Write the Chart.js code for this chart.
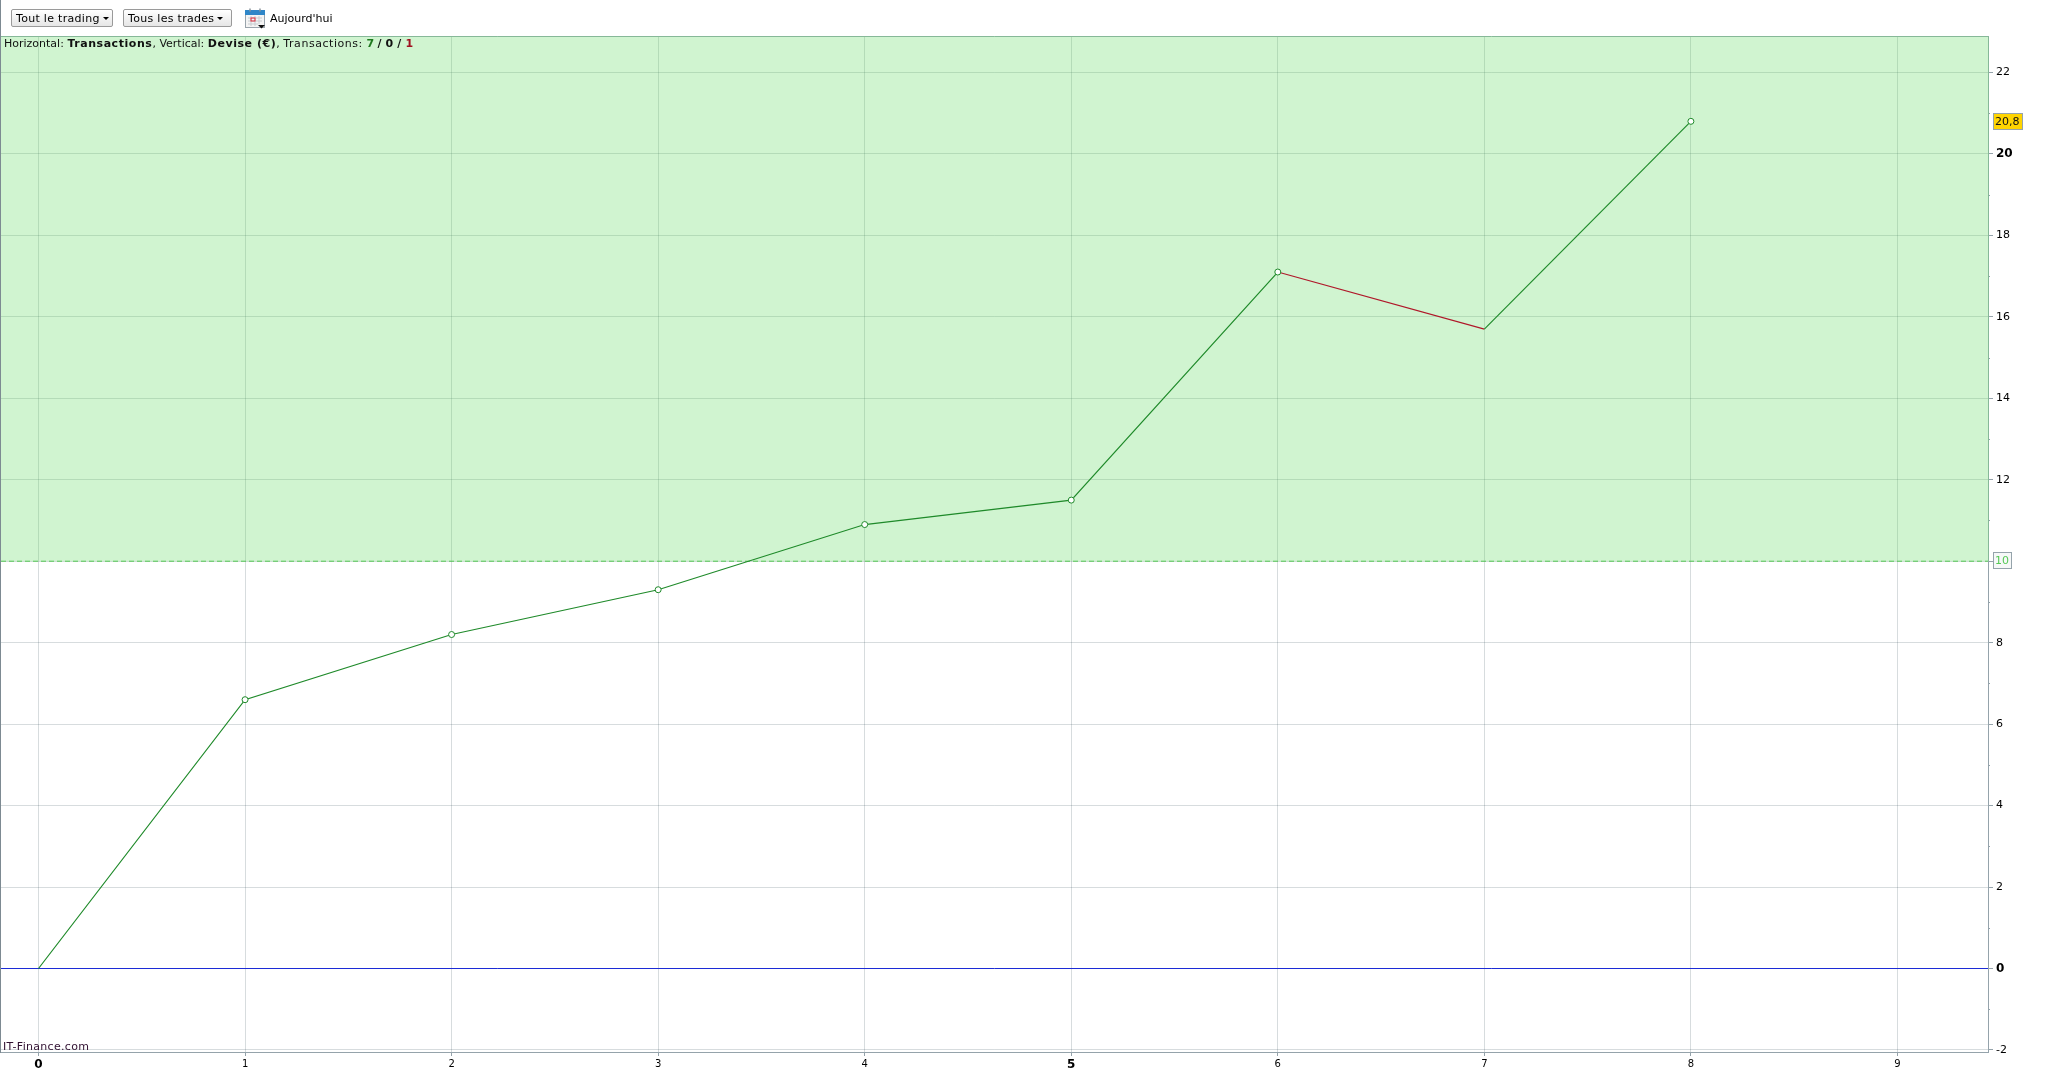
<!DOCTYPE html>
<html>
<head>
<meta charset="utf-8">
<title>IT-Finance</title>
<script src="https://cdn.jsdelivr.net/npm/chart.js@4"></script>
<style>
html,body{margin:0;padding:0;background:#fff;overflow:hidden;}
body{font-family:"DejaVu Sans",sans-serif;font-size:11px;color:#000;}
#wrap{position:absolute;left:0;top:0;width:2047px;height:1071px;}
#edge{position:absolute;left:0;top:0;width:1px;height:1053px;background:#7d8a92;}
.btn{position:absolute;top:9px;height:16px;line-height:18px;border:1px solid #9a9a9a;border-radius:2px;
	background:linear-gradient(#fff,#e6e6e6);padding-left:4px;box-sizing:content-box;white-space:nowrap;letter-spacing:0.3px;}
.btn i{display:inline-block;width:0;height:0;margin-left:3px;vertical-align:2px;
	border-left:3px solid transparent;border-right:3px solid transparent;border-top:3px solid #000;}
#today{position:absolute;left:270px;top:12px;line-height:14px;}
#cal{position:absolute;left:245px;top:8px;}
#info{position:absolute;left:4px;top:37px;line-height:14px;white-space:pre;color:#111;}
#info b{letter-spacing:0.55px;}
#info .t{letter-spacing:0.55px;}
#info .g{color:#1f7a1f;font-weight:bold;}
#info .r{color:#a01020;font-weight:bold;}
#credit{position:absolute;left:3px;top:1040px;line-height:14px;color:#301030;letter-spacing:0.3px;}
</style>
</head>
<body>
<div id="wrap">
	<canvas id="myChart" width="2047" height="1071"></canvas>
	<div id="edge"></div>
	<div class="btn" style="left:11px;width:96px">Tout le trading<i></i></div>
	<div class="btn" style="left:123px;width:103px">Tous les trades<i></i></div>
	<svg id="cal" width="21" height="21" viewBox="0 0 21 21">
		<rect x="0.5" y="2.5" width="19" height="17" fill="#f4f4f4" stroke="#9aa4ac"/>
		<rect x="0" y="2" width="20" height="5" fill="#2f86c8"/>
		<path d="M5 0.5v3M15 0.5v3" stroke="#8a949c" stroke-width="1.5"/>
		<path d="M3 10h14M3 13h14M3 16h10M6 8v10M10 8v10M14 8v8" stroke="#c8ccd0" stroke-width="1"/>
		<rect x="6" y="10" width="4" height="3" fill="none" stroke="#e03040"/>
		<path d="M13 17h7l-3.5 3.5z" fill="#111"/>
	</svg>
	<div id="today">Aujourd'hui</div>
	<div id="info">Horizontal: <b>Transactions</b>, Vertical: <b>Devise (€)</b>, <span class="t">Transactions:</span> <span class="g">7</span> <b>/</b> <b>0</b> <b>/</b> <span class="r">1</span></div>
	<div id="credit">IT-Finance.com</div>
</div>
<script>
//DATOS
const transactions = [0, 1, 2, 3, 4, 5, 6, 7, 8];
const devise = [0, 6.6, 8.2, 9.3, 10.9, 11.5, 17.1, 15.7, 20.8];
const sansMarqueur = [0, 7];
const xBoldTicks = [0, 5];
const yBoldTicks = [0, 20];
const seuil = 10;
const dernier = 20.8;
const xMin = -0.1816, xMax = 9.4384;
const yMin = -2.05, yMax = 22.895;

const vert = "#1f8a2a";
const rouge = "#b0182a";
const grille = "rgba(20,50,60,0.17)";
const axe = "#95a3ab";
const axeVert = "#86b898";

//la fuente tambien se pide sin tick, al medir la escala
function fontTick(c, bolds, size){
	if(c.tick && bolds.includes(c.tick.value)){
		return {family: "DejaVu Sans", size: 12, weight: "bold"};
	}
	return {family: "DejaVu Sans", size: size};
}

function boite(ctx, x, y, w, h, fond, bord, texte, couleur){
	ctx.fillStyle = fond;
	ctx.fillRect(x, y, w, h);
	ctx.strokeStyle = bord;
	ctx.lineWidth = 1;
	ctx.strokeRect(x + 0.5, y + 0.5, w - 1, h - 1);
	ctx.fillStyle = couleur;
	ctx.font = '11px "DejaVu Sans"';
	ctx.textAlign = "left";
	ctx.textBaseline = "middle";
	ctx.fillText(texte, x + 2, y + h / 2 + 0.5);
}

//marcas cortas impares, borde verde y etiquetas con caja a la derecha
const extrasAxe = {
	id: "extrasAxe",
	afterDraw(chart){
		const ctx = chart.ctx;
		const y = chart.scales.y;
		const area = chart.chartArea;
		const right = area.right;
		ctx.save();
		ctx.strokeStyle = axe;
		ctx.lineWidth = 1;
		y.ticks.forEach(t => {
			if(t.value % 2 !== 0){
				let py = Math.round(y.getPixelForValue(t.value)) + 0.5;
				ctx.beginPath();
				ctx.moveTo(right, py);
				ctx.lineTo(right + 2, py);
				ctx.stroke();
			}
		});
		let p10 = Math.round(y.getPixelForValue(seuil));
		ctx.strokeStyle = axeVert;
		ctx.beginPath();
		ctx.moveTo(area.left, area.top + 0.5);
		ctx.lineTo(right + 0.5, area.top + 0.5);
		ctx.lineTo(right + 0.5, p10);
		ctx.stroke();
		boite(ctx, 1993, p10 - 9, 19, 17, "#f6f8f8", "#95a3ab", "10", "#55c855");
		let pDer = Math.round(y.getPixelForValue(dernier));
		boite(ctx, 1993, pDer - 8, 30, 17, "#ffd400", "#95a3ab", "20,8", "#111");
		ctx.restore();
	}
};

const data = {
	datasets: [
		{
			label: "Devise",
			data: transactions.map((t, i) => ({x: t, y: devise[i]})),
			borderColor: vert,
			borderWidth: 1.2,
			tension: 0,
			fill: false,
			pointBackgroundColor: "#fff",
			pointBorderColor: vert,
			pointBorderWidth: 1,
			pointRadius: transactions.map(t => sansMarqueur.includes(t) ? 0 : 3),
			segment: {
				borderColor: c => c.p1.parsed.y < c.p0.parsed.y ? rouge : vert
			},
			order: 1
		},
		{
			label: "Zero",
			data: [{x: xMin, y: 0}, {x: xMax, y: 0}],
			borderColor: "#1c2bd6",
			borderWidth: 1,
			pointRadius: 0,
			fill: false,
			order: 2
		},
		{
			label: "Seuil",
			data: [{x: xMin, y: seuil}, {x: xMax, y: seuil}],
			borderColor: "#55c855",
			borderWidth: 1,
			borderDash: [5, 3],
			pointRadius: 0,
			fill: "end",
			backgroundColor: "rgba(100,220,100,0.3)",
			order: 3
		}
	]
};

const config = {
	type: "line",
	data: data,
	options: {
		responsive: false,
		animation: false,
		events: [],
		layout: {autoPadding: false, padding: {top: 36, left: 1}},
		plugins: {legend: {display: false}, tooltip: {enabled: false}, title: {display: false}},
		scales: {
			x: {
				type: "linear",
				min: xMin,
				max: xMax,
				afterFit: s => { s.height = 19; s.paddingLeft = 0; s.paddingRight = 0; },
				border: {color: axe, width: 1},
				grid: {color: grille, tickColor: axe, tickLength: 4},
				ticks: {
					stepSize: 1,
					includeBounds: false,
					autoSkip: false,
					maxRotation: 0,
					padding: 2,
					color: "#000",
					font: c => fontTick(c, xBoldTicks, 10)
				}
			},
			y: {
				position: "right",
				min: yMin,
				max: yMax,
				afterFit: s => { s.width = 59; },
				border: {color: axe, width: 1},
				grid: {
					color: c => c.tick && c.tick.value % 2 === 0 ? grille : "transparent",
					tickColor: c => c.tick && c.tick.value % 2 === 0 ? axe : "transparent",
					tickLength: 5
				},
				ticks: {
					stepSize: 1,
					includeBounds: false,
					autoSkip: false,
					padding: 3,
					color: "#000",
					callback: v => (v % 2 === 0 && v !== seuil) ? String(v) : "",
					font: c => fontTick(c, yBoldTicks, 11)
				}
			}
		}
	},
	plugins: [extrasAxe]
};

const myChart = new Chart(document.getElementById("myChart"), config);
</script>
</body>
</html>
